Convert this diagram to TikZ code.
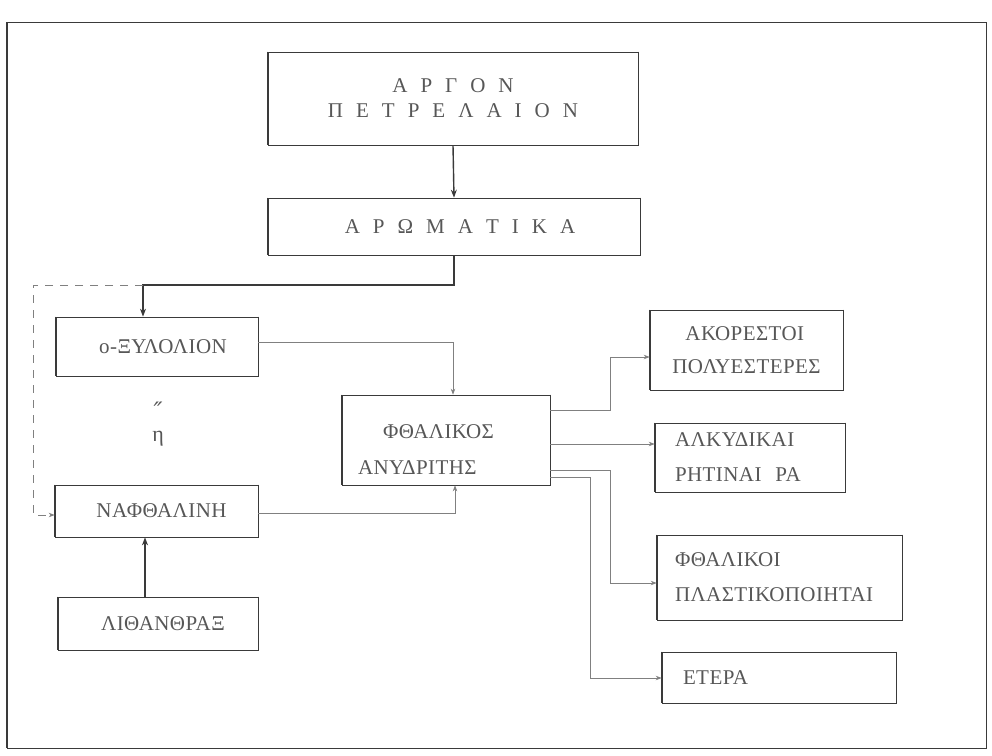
\documentclass[tikz,border=0pt]{standalone}
\usepackage{fontspec}
\newfontfamily\tw[LetterSpace=2]{Liberation Serif}
\newfontfamily\djv{DejaVu Serif}
\usetikzlibrary{arrows.meta}
\definecolor{linec}{HTML}{3A3A3A}
\definecolor{lightc}{HTML}{808080}
\definecolor{txtc}{HTML}{575757}
\newcommand\gp{\hspace{13pt}}
\tikzset{
  box/.style={draw=linec, line width=0.7pt, rectangle, inner ysep=0pt,
    font=\tw\fontsize{21}{35}\selectfont, text=txtc, align=center,
    append after command={(\tikzlastnode.north west) edge[line width=1.3pt, draw=linec] (\tikzlastnode.south west)
                          (\tikzlastnode.north east) edge[line width=1.3pt, draw=linec] (\tikzlastnode.south east)}},
  arr/.style={-{Stealth[length=8pt,width=6pt]}, line width=1.4pt, draw=linec},
  marr/.style={-{Stealth[length=8pt,width=6pt]}, line width=1.1pt, draw=linec},
  larr/.style={-{Stealth[length=6pt,width=4.5pt]}, line width=0.7pt, draw=lightc},
  dasharr/.style={-{Stealth[length=6pt,width=4.5pt]}, line width=0.8pt, draw=lightc, dash pattern=on 8pt off 7pt}
}
\begin{document}
\begin{tikzpicture}[x=1pt,y=-1pt]
\useasboundingbox (0,0) rectangle (992,755);
% outer frame
\draw[line width=0.8pt, draw=linec] (7,22) rectangle (986,748);
\draw[line width=1.6pt, draw=linec] (7,22) -- (7,748);

% boxes
\node[box, minimum width=370pt, minimum height=93pt, font=\tw\fontsize{21}{25}\selectfont] (argon) at (453,98.5)
  {Α\gp Ρ\gp Γ\gp Ο\gp Ν\\Π\gp Ε\gp Τ\gp Ρ\gp Ε\gp Λ\gp Α\gp Ι\gp Ο\gp Ν};
\node[box, minimum width=372pt, minimum height=57pt] (arom) at (454,226.5) {\hspace*{12pt}Α\gp Ρ\gp Ω\gp Μ\gp Α\gp Τ\gp Ι\gp Κ\gp Α};
\node[box, minimum width=202pt, minimum height=59pt] (xyl) at (157,346.5) {\hspace*{12pt}ο-ΞΥΛΟΛΙΟΝ};
\node[box, minimum width=203pt, minimum height=52pt] (naph) at (156.5,511) {\hspace*{10pt}ΝΑΦΘΑΛΙΝΗ};
\node[box, minimum width=200pt, minimum height=53pt] (lith) at (158,623.5) {\hspace*{10pt}ΛΙΘΑΝΘΡΑΞ};
\node[box, minimum width=208pt, minimum height=90pt, inner xsep=16pt, text width=176pt, align=left,
      font=\tw\fontsize{21}{36}\selectfont] (phth) at (446,440)
  {\rule{0pt}{33pt}\hspace*{25pt}ΦΘΑΛΙΚΟΣ\\ΑΝΥΔΡΙΤΗΣ};
\node[box, minimum width=193pt, minimum height=80pt, align=left, font=\tw\fontsize{21}{33}\selectfont] (akor) at (746.5,350)
  {\hspace*{13pt}ΑΚΟΡΕΣΤΟΙ\\ΠΟΛΥΕΣΤΕΡΕΣ};
\node[box, minimum width=190pt, minimum height=69pt, inner xsep=20pt, text width=150pt, align=left] (alk) at (750,457.5)
  {ΑΛΚΥΔΙΚΑΙ\\ΡΗΤΙΝΑΙ\hspace{14pt}ΡΑ};
\node[box, minimum width=245pt, minimum height=85pt, inner xsep=18pt, text width=209pt, align=left] (plast) at (779.5,577.5)
  {ΦΘΑΛΙΚΟΙ\\ΠΛΑΣΤΙΚΟΠΟΙΗΤΑΙ};
\node[box, minimum width=234pt, minimum height=51pt, inner xsep=21pt, text width=192pt, align=left] (eter) at (779,677.5)
  {ΕΤΕΡΑ};

% "or" mark
\node[font=\tw\fontsize{22}{22}\selectfont, text=txtc, align=center] (or) at (158,424) {{\djv\fontsize{24}{16}\selectfont\itshape ″}\\η};

% helper coordinates
\coordinate (j1) at (143,285);
\coordinate (d1) at (33,285);
\coordinate (d2) at (33,515);
\coordinate (k1) at (453,342);
\coordinate (k2) at (455,513);
\coordinate (l1) at (145,600);
\coordinate (r1) at (610,410);
\coordinate (r1b) at (610,357);
\coordinate (r2) at (610,444);
\coordinate (r3) at (610,470);
\coordinate (r3b) at (610,583);
\coordinate (r4) at (590,477);
\coordinate (r4b) at (590,678);

% connectors
\draw[arr] (argon.south) -- (arom.north);
\draw[marr] (arom.south) |- (j1) -- (j1 |- xyl.north);
\draw[dasharr] (j1) -- (d1) -- (d2) -- (naph.west |- d2);
\draw[arr] (l1 |- lith.north) -- (l1 |- naph.south);
\draw[larr] (xyl.east |- k1) -- (k1) -- (k1 |- phth.north);
\draw[larr] (naph.east |- k2) -- (k2) -- (k2 |- phth.south);
\draw[larr] (phth.east |- r1) -- (r1) -- (r1b) -- (akor.west |- r1b);
\draw[larr] (phth.east |- r2) -- (alk.west |- r2);
\draw[larr] (phth.east |- r3) -- (r3) -- (r3b) -- (plast.west |- r3b);
\draw[larr] (phth.east |- r4) -- (r4) -- (r4b) -- (eter.west |- r4b);
\end{tikzpicture}
\end{document}
